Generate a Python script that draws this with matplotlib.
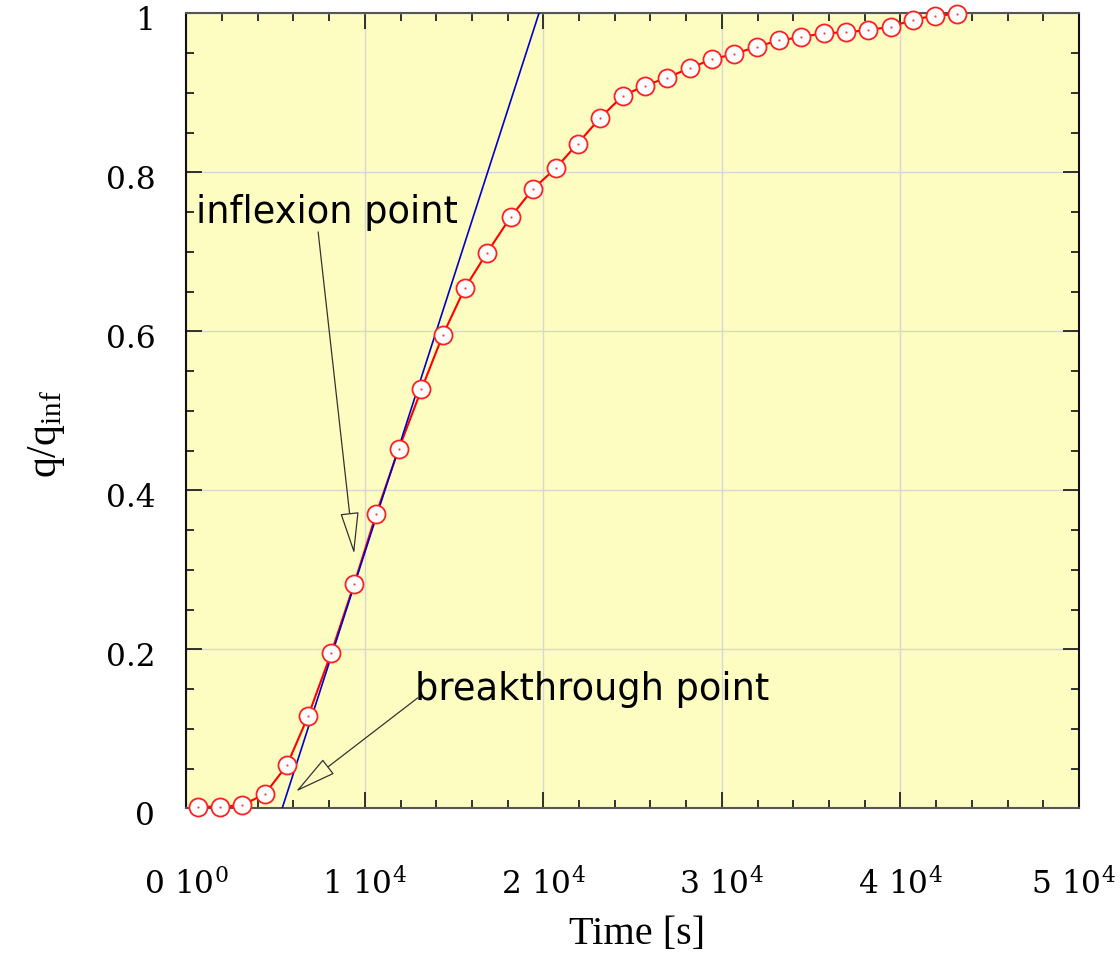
import matplotlib
matplotlib.use("Agg")
import matplotlib.pyplot as plt
from matplotlib.ticker import MultipleLocator
from matplotlib.transforms import blended_transform_factory, offset_copy

# Measured uptake curve: time [s] and fractional loading q/q_inf
time_s = [672, 1886, 3134, 4404, 5635, 6827, 8112, 9401, 10632, 11903,
          13173, 14365, 15596, 16850, 18175, 19418, 20688, 21919, 23167, 24437,
          25686, 26939, 28187, 29435, 30705, 31953, 33206, 34454, 35702, 36956,
          38204, 39474, 40722, 41914, 43167]
q_ratio = [0.002, 0.002, 0.004, 0.018, 0.054, 0.116, 0.195, 0.282, 0.370, 0.452,
           0.527, 0.595, 0.654, 0.699, 0.744, 0.779, 0.805, 0.836, 0.868, 0.896,
           0.909, 0.919, 0.931, 0.942, 0.949, 0.958, 0.966, 0.970, 0.975, 0.976,
           0.979, 0.983, 0.992, 0.997, 0.999]

# Tangent through the inflexion point
tangent_t = [5372, 19754]
tangent_q = [0.0, 1.0]

# Annotation anchors (text position, arrow tip, arrow tail)
inflexion_text = (543, 0.749)
inflexion_tip = (9401, 0.320)
inflexion_tail = (7387, 0.725)
breakthrough_text = (12800, 0.149)
breakthrough_tip = (6139, 0.021)
breakthrough_tail = (12970, 0.139)

x_ticks = [0, 10000, 20000, 30000, 40000, 50000]
x_tick_labels = [r"$\mathregular{0\ 10^{0}}$", r"$\mathregular{1\ 10^{4}}$",
                 r"$\mathregular{2\ 10^{4}}$", r"$\mathregular{3\ 10^{4}}$",
                 r"$\mathregular{4\ 10^{4}}$", r"$\mathregular{5\ 10^{4}}$"]
y_ticks = [0, 0.2, 0.4, 0.6, 0.8, 1.0]
y_tick_labels = ["0", "0.2", "0.4", "0.6", "0.8", "1"]

bg = "#fdfdc1"
fig = plt.figure(figsize=(11.2, 9.55), dpi=100)
ax = fig.add_axes([0.1663, 0.1536, 0.7971, 0.8325])
ax.set_facecolor(bg)
ax.set_xlim(0, 50000)
ax.set_ylim(0, 1)

ax.xaxis.set_major_locator(MultipleLocator(10000))
ax.xaxis.set_minor_locator(MultipleLocator(2000))
ax.yaxis.set_major_locator(MultipleLocator(0.2))
ax.yaxis.set_minor_locator(MultipleLocator(0.05))
ax.tick_params(which="both", direction="in", top=True, right=True,
               labelbottom=False, labelleft=False, color="#222222", width=1.3)
ax.tick_params(which="major", length=11.5)
ax.tick_params(which="minor", length=5.8)
ax.grid(True, which="major", color="#d6d6d6", lw=1.0)
ax.set_axisbelow(True)
for side, sp in ax.spines.items():
    sp.set_linewidth(1.5)
    sp.set_color("#111111" if side in ("left", "right") else "#555555")

ax.plot(time_s, q_ratio, color="#ff0000", lw=1.5, zorder=3, clip_on=False)
ax.plot(tangent_t, tangent_q, color="#0000cc", lw=1.2, zorder=4)
ax.plot(time_s, q_ratio, ls="none", marker="o", ms=13, mfc="white",
        mec="#ff2020", mew=1.3, zorder=5, clip_on=False)
ax.plot(time_s, q_ratio, ls="none", marker="o", ms=1.6, mfc="#ff4040",
        mec="none", zorder=6, clip_on=False)

# Tick labels drawn as text so their offsets can be set freely;
# the last one is nudged left to stay inside the figure
xtr = blended_transform_factory(ax.transData, ax.transAxes)
for i, (xv, lab) in enumerate(zip(x_ticks, x_tick_labels)):
    dx = -6 if i == len(x_ticks) - 1 else 0
    ax.text(xv, 0, lab, transform=offset_copy(xtr, fig=fig, x=dx, y=-77, units="dots"),
            ha="center", va="center", fontsize=22.5, family="DejaVu Serif",
            clip_on=False)
ytr = blended_transform_factory(ax.transAxes, ax.transData)
for yv, lab in zip(y_ticks, y_tick_labels):
    ax.text(0, yv, lab, transform=offset_copy(ytr, fig=fig, x=-31, y=-8, units="dots"),
            ha="right", va="center", fontsize=22.5, family="DejaVu Serif",
            clip_on=False)

fig.text(637 / 1120, 1 - 934 / 955, "Time [s]", ha="center", va="center",
         fontsize=29, family="Liberation Serif")
fig.text(47 / 1120, 1 - 434 / 955, r"$\mathregular{q/q_{inf}}$", ha="center",
         va="center", rotation=90, fontsize=30, family="Liberation Serif")

arrow_kw = dict(arrowstyle="-|>,head_length=1.35,head_width=0.3",
                mutation_scale=20, color="#333333", lw=0.9, fc=bg,
                shrinkA=0, shrinkB=0)
ax.annotate("", xy=inflexion_tip, xytext=inflexion_tail, arrowprops=arrow_kw, zorder=7)
ax.annotate("", xy=breakthrough_tip, xytext=breakthrough_tail, arrowprops=arrow_kw, zorder=7)
ax.text(*inflexion_text, "inflexion point", fontsize=26.5, family="DejaVu Sans",
        ha="left", va="center", zorder=8)
ax.text(*breakthrough_text, "breakthrough point", fontsize=26.5, family="DejaVu Sans",
        ha="left", va="center", zorder=8)

fig.savefig("out.png", dpi=100, facecolor="white")
